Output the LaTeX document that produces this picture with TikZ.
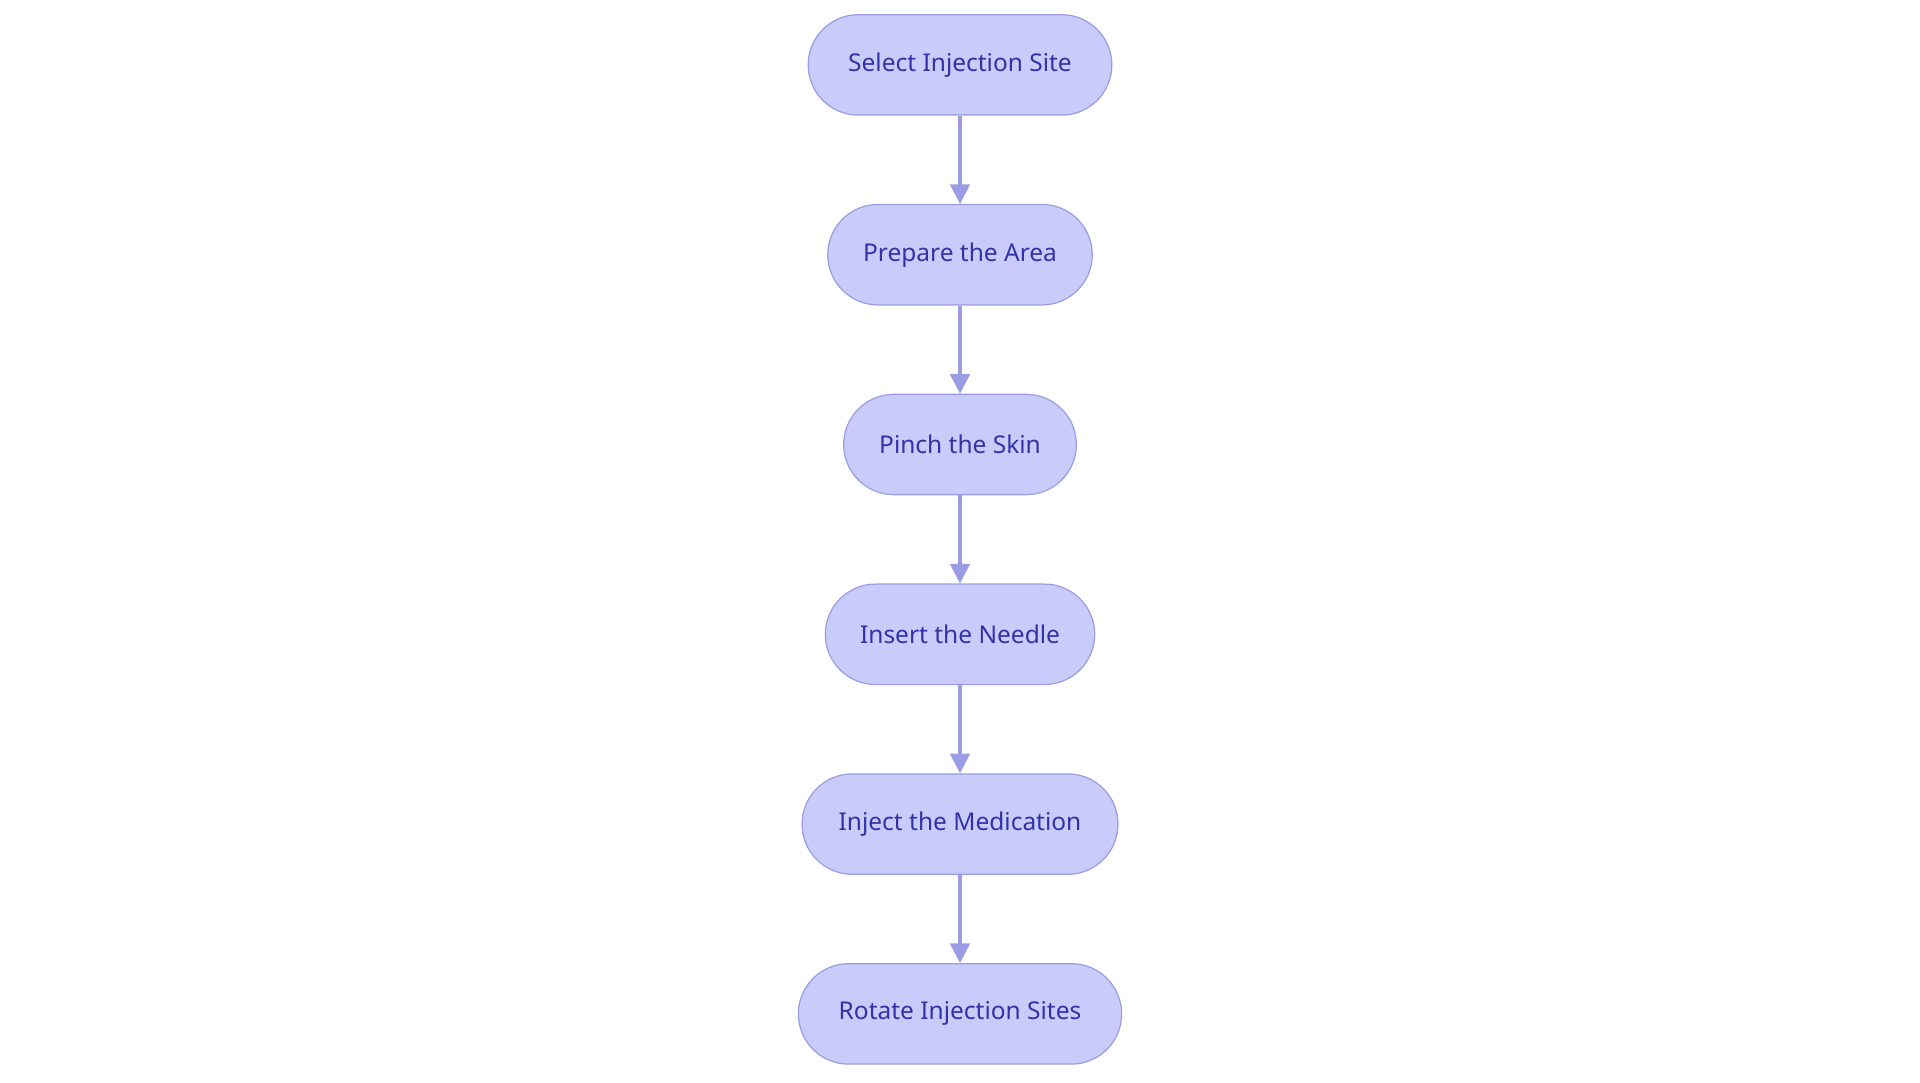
\documentclass[tikz,border=0pt]{standalone}
\usepackage{fontspec}
\setmainfont{Noto Sans}
\usetikzlibrary{arrows.meta}
\definecolor{nfill}{HTML}{C9CCFB}
\definecolor{nline}{HTML}{9A9DE3}
\definecolor{ntext}{HTML}{3232A6}
\begin{document}
\begin{tikzpicture}[x=1pt,y=-1pt,
  box/.style={draw=nline,fill=nfill,line width=1pt,rounded corners=41pt,minimum height=82pt,text=ntext,font=\fontsize{20}{24}\selectfont,inner sep=0pt},
  arr/.style={draw=nline,line width=2.5pt,-{Triangle[length=16pt,width=16pt]}}]
\useasboundingbox[fill=white] (0,0) rectangle (1568,884);
\node[box,minimum width=248pt] (a) at (784,53) {Select Injection Site};
\node[box,minimum width=216pt] (b) at (784,208) {Prepare the Area};
\node[box,minimum width=190pt] (c) at (784,363) {Pinch the Skin};
\node[box,minimum width=220pt] (d) at (784,518) {Insert the Needle};
\node[box,minimum width=258pt] (e) at (784,673) {Inject the Medication};
\node[box,minimum width=264pt] (f) at (784,828) {Rotate Injection Sites};
\draw[arr] (a) -- (b);
\draw[arr] (b) -- (c);
\draw[arr] (c) -- (d);
\draw[arr] (d) -- (e);
\draw[arr] (e) -- (f);
\end{tikzpicture}
\end{document}
